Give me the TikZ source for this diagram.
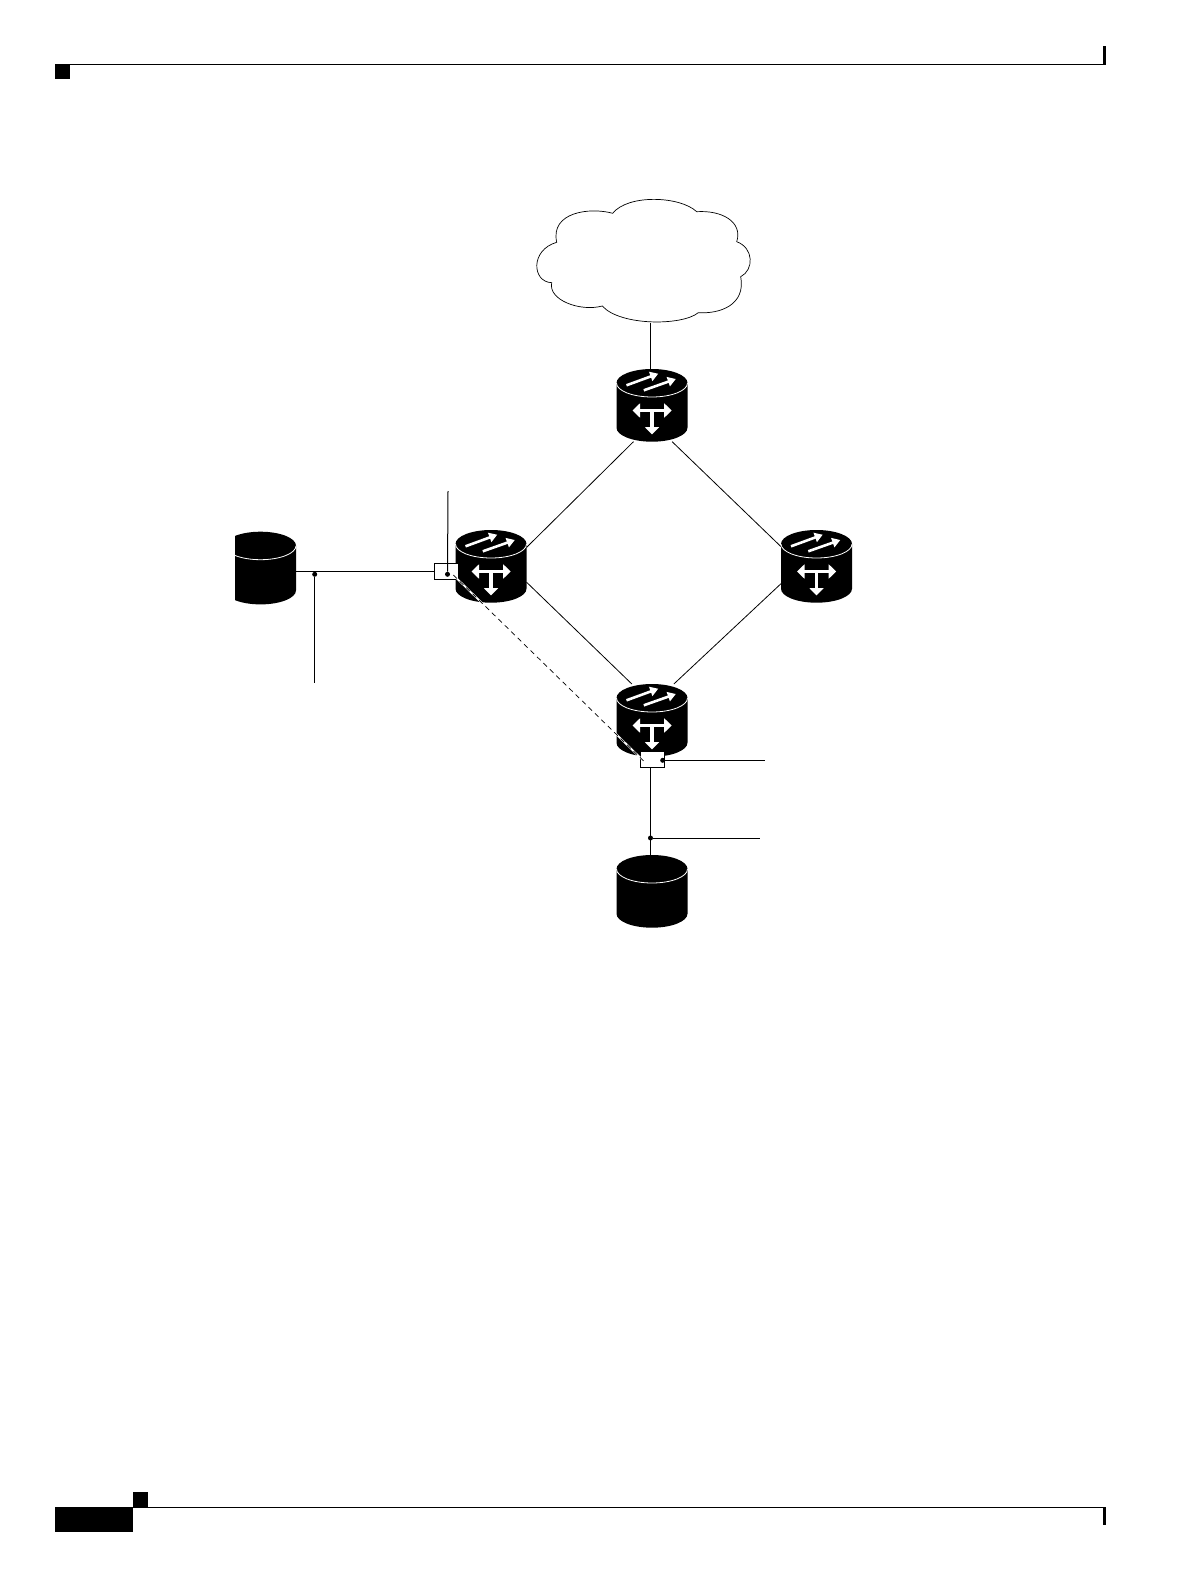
\documentclass[tikz,border=0pt]{standalone}
\usetikzlibrary{arrows.meta}
\begin{document}
\begin{tikzpicture}[
  x=1pt, y=-1pt,
  thinline/.style={line width=0.8pt},
  blackbar/.style={fill=black, draw=none},
  dot/.style={circle, fill, inner sep=0pt, minimum size=5pt},
  tagbox/.style={draw, fill=white, line width=0.8pt, inner sep=0pt, minimum width=24pt, minimum height=16pt},
  diskbox/.style={inner sep=0pt, outer sep=0pt, minimum width=71pt, minimum height=72.7pt},
  flowarrow/.style={white, line width=2.6pt, -{Triangle[length=8pt, width=9.5pt]}},
  switcharrow/.style={white, line width=3.8pt},
  disk/.pic={
    \fill (-35.5,0) arc[start angle=180, end angle=0, x radius=35.5pt, y radius=14pt]
      -- (35.5,44.7) arc[start angle=0, end angle=-180, x radius=35.5pt, y radius=14pt] -- cycle;
    \draw[white, line width=0.8pt] (-35.5,0) arc[start angle=180, end angle=360, x radius=35.5pt, y radius=14pt];
    \node[diskbox] (-box) at (0,22.35) {};
  },
  router/.pic={
    \pic (-d) at (0,0) {disk};
    \draw[flowarrow] (-25.5,2.3) -- (6.2,-9.3);
    \draw[flowarrow] (-8.2,7.3) -- (23.8,-4);
    \draw[switcharrow, {Triangle[length=7.5pt, width=14pt]}-{Triangle[length=7.5pt, width=14pt]}] (-19.5,27.5) -- (19.7,27.5);
    \draw[switcharrow, -{Triangle[length=7.5pt, width=14pt]}] (0,27.5) -- (0,51.5);
  }
]
  \useasboundingbox (0,0) rectangle (1190,1586);

  % --- page frame ---
  \draw[line width=1pt] (55,64.5) -- (1105,64.5);
  \fill[blackbar] (55,64) rectangle (70,79.5);
  \fill[blackbar] (1103,46.5) rectangle (1106,65);
  \draw[line width=1pt] (55,1507.5) -- (1105,1507.5);
  \fill[blackbar] (55,1507) rectangle (133,1532);
  \fill[blackbar] (133,1492) rectangle (148,1507);
  \fill[blackbar] (1103,1507) rectangle (1106,1525);

  % --- cloud ---
  \draw[line width=0.7pt] (612.7,213.3)
    .. controls (628,194) and (680,196) .. (696.7,211.7)
    .. controls (722,210) and (743,222) .. (736.7,241.7)
    .. controls (754,248) and (754,270) .. (740.7,276.7)
    .. controls (746,305) and (720,314) .. (698.3,312.7)
    .. controls (682,326) and (620,326) .. (602.3,306)
    .. controls (580,312) and (548,300) .. (551.7,282.7)
    .. controls (532,282) and (530,250) .. (556.7,242.3)
    .. controls (550,212) and (590,207) .. (612.7,213.3);
  \coordinate (cloudbot) at (650,322.7);

  % --- routers and disks ---
  \pic (rtop) at (652,383) {router};
  \pic (rleft) at (491,544) {router};
  \pic (rright) at (816.5,544) {router};
  \pic (rlow) at (652,698) {router};
  \pic (dlow) at (652,869) {disk};
  \begin{scope}
    \clip (235,520) rectangle (310,615);
    \pic (dleft) at (260.5,545.7) {disk};
  \end{scope}

  % --- links ---
  \draw[thinline] (cloudbot) -- (cloudbot |- rtop-d-box.north);
  \draw[thinline] (rtop-d-box.-117) -- (rleft-d-box.28);
  \draw[thinline] (rtop-d-box.-61) -- (rright-d-box.151);
  \draw[thinline] (rleft-d-box.-24) -- (rlow-d-box.119);
  \draw[thinline] (rright-d-box.206) -- (rlow-d-box.59);

  % --- tags ---
  \node[tagbox] (tagleft) at (446,571.3) {};
  \node[tagbox] (taglow) at (652.4,759.5) {};
  \draw[thinline] (dleft-box.east |- tagleft.west) -- (tagleft.west);

  % --- leaders ---
  \node[dot] (dotleft) at (447.5,574.3) {};
  \coordinate (leadup) at (448,491);
  \draw[line width=1pt] (leadup) -- (dotleft);
  \node[dot] (dotwire) at (314.7,574.3) {};
  \coordinate (leaddown) at (314.7,682.7);
  \draw[line width=1pt] (dotwire) -- (leaddown);
  \node[dot] (dottag) at (662.7,760.3) {};
  \coordinate (leadright) at (765,760.3);
  \draw[line width=1pt] (dottag) -- (leadright);
  \node[dot] (dotlow) at (650.5,838) {};
  \coordinate (leadlow) at (760,838);
  \draw[line width=1pt] (dotlow) -- (leadlow);
  \draw[thinline] (dotlow |- taglow.south) -- (dotlow |- dlow-box.north);

  % --- dashed path ---
  \coordinate (dashstart) at (453.3,575);
  \coordinate (dashend) at (646,763.3);
  \draw[white, line width=1.8pt] (dashstart) -- (dashend);
  \draw[line width=0.7pt, dash pattern=on 5pt off 4pt] (dashstart) -- (dashend);
\end{tikzpicture}
\end{document}
